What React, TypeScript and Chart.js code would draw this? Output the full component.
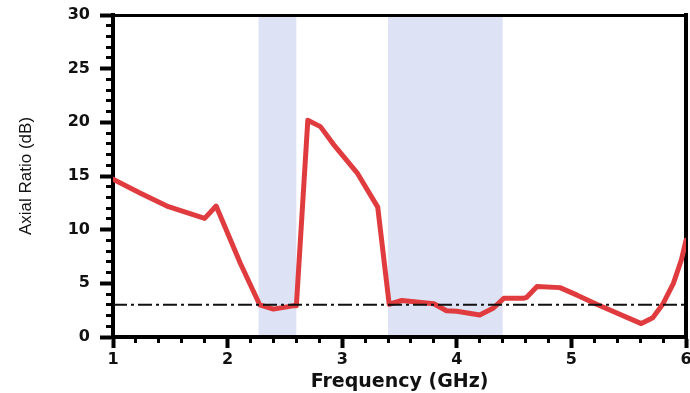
import React, { useEffect, useRef } from "react";
import { Chart, registerables } from "chart.js";

Chart.register(...registerables);

// Axial ratio curve (frequency in GHz, AR in dB)
const frequencies = [
  1.0, 1.24, 1.47, 1.8, 1.9, 2.11, 2.28, 2.4, 2.57, 2.6, 2.7, 2.81, 2.92, 3.13,
  3.31, 3.41, 3.52, 3.8, 3.91, 4.0, 4.2, 4.32, 4.41, 4.58, 4.61, 4.7, 4.9, 5.05,
  5.22, 5.61, 5.71, 5.8, 5.89, 5.96, 6.0,
];
const axialRatio = [
  14.7, 13.4, 12.2, 11.05, 12.2, 6.9, 3.0, 2.6, 2.9, 2.9, 20.2, 19.6, 18.0, 15.3,
  12.1, 3.05, 3.4, 3.1, 2.45, 2.4, 2.05, 2.7, 3.6, 3.6, 3.7, 4.7, 4.6, 3.9,
  3.05, 1.25, 1.8, 3.1, 5.0, 7.2, 9.0,
];

// 3 dB reference level
const thresholdDb = 3;

// Highlighted frequency bands (GHz)
const bandStarts = [2.27, 3.4];
const bandEnds = [2.6, 4.4];

const xRange = [1, 6];
const yRange = [0, 30];

const bandPlugin = {
  id: "bands",
  beforeDraw(chart: any) {
    const { ctx, chartArea, scales } = chart;
    const xs = scales.x;
    ctx.save();
    ctx.fillStyle = "#dde3f4";
    bandStarts.forEach((s, i) => {
      const x1 = xs.getPixelForValue(s);
      const x2 = xs.getPixelForValue(bandEnds[i]);
      ctx.fillRect(x1, chartArea.top, x2 - x1, chartArea.bottom - chartArea.top);
    });
    ctx.restore();
  },
};

const tickFont = { family: "'DejaVu Sans', sans-serif", size: 16, weight: "bold" as const };

export default function App() {
  const canvasRef = useRef<HTMLCanvasElement | null>(null);

  useEffect(() => {
    if (!canvasRef.current) return;
    const chart = new Chart(canvasRef.current, {
      type: "line",
      data: {
        datasets: [
          {
            data: [
              { x: xRange[0], y: thresholdDb },
              { x: xRange[1], y: thresholdDb },
            ],
            borderColor: "#111",
            borderWidth: 2,
            borderDash: [14, 4, 3, 4],
            pointRadius: 0,
            order: 0,
          },
          {
            data: frequencies.map((f, i) => ({ x: f, y: axialRatio[i] })),
            borderColor: "#e03c3f",
            borderWidth: 5,
            borderJoinStyle: "round",
            borderCapStyle: "round",
            pointRadius: 0,
            tension: 0,
            order: 1,
          },
        ],
      },
      options: {
        responsive: false,
        animation: false,
        layout: { padding: { top: 15, right: 4, left: 0, bottom: 0 } },
        plugins: { legend: { display: false }, tooltip: { enabled: false } },
        scales: {
          x: {
            type: "linear",
            position: "bottom",
            weight: 1,
            min: xRange[0],
            max: xRange[1],
            ticks: { stepSize: 1, color: "#111", font: tickFont, padding: 2, maxRotation: 0 },
            grid: { drawOnChartArea: false, tickLength: 11, tickWidth: 4, tickColor: "#000" },
            border: { display: true, color: "#000", width: 4 },
            title: {
              display: true,
              text: "Frequency (GHz)",
              color: "#111",
              font: { family: "'DejaVu Sans', sans-serif", size: 19, weight: "bold" },
              padding: { top: 0, bottom: 0 },
            },
            afterFit(scale: any) {
              scale.height = 56;
              scale.paddingLeft = 0;
              scale.paddingRight = 0;
            },
          },
          xMinor: {
            type: "linear",
            position: "bottom",
            weight: 0,
            min: xRange[0],
            max: xRange[1],
            ticks: { stepSize: 0.2, display: false },
            grid: { drawOnChartArea: false, tickLength: 6, tickWidth: 3, tickColor: "#000" },
            border: { display: false },
            afterFit(scale: any) {
              scale.height = 0;
              scale.paddingLeft = 0;
              scale.paddingRight = 0;
            },
          },
          xTop: {
            type: "linear",
            position: "top",
            min: xRange[0],
            max: xRange[1],
            ticks: { display: false },
            grid: { drawOnChartArea: false, drawTicks: false },
            border: { display: true, color: "#000", width: 3 },
            afterFit(scale: any) {
              scale.height = 0;
              scale.paddingLeft = 0;
              scale.paddingRight = 0;
            },
          },
          y: {
            type: "linear",
            position: "left",
            weight: 1,
            min: yRange[0],
            max: yRange[1],
            ticks: { stepSize: 5, color: "#111", font: tickFont, padding: 10 },
            grid: { drawOnChartArea: false, tickLength: 13, tickWidth: 4, tickColor: "#000" },
            border: { display: true, color: "#000", width: 4 },
            title: {
              display: true,
              text: "Axial Ratio (dB)",
              color: "#111",
              font: { family: "'Liberation Sans', Arial, sans-serif", size: 17 },
              padding: { top: 16, bottom: 0 },
            },
            afterFit(scale: any) {
              scale.width = 113;
              scale.paddingTop = 0;
              scale.paddingBottom = 0;
            },
          },
          yMinor: {
            type: "linear",
            position: "left",
            weight: 0,
            min: yRange[0],
            max: yRange[1],
            ticks: { stepSize: 1, display: false },
            grid: { drawOnChartArea: false, tickLength: 7, tickWidth: 3, tickColor: "#000" },
            border: { display: false },
            afterFit(scale: any) {
              scale.width = 0;
              scale.paddingTop = 0;
              scale.paddingBottom = 0;
            },
          },
          yRight: {
            type: "linear",
            position: "right",
            min: yRange[0],
            max: yRange[1],
            ticks: { display: false },
            grid: { drawOnChartArea: false, drawTicks: false },
            border: { display: true, color: "#000", width: 4 },
            afterFit(scale: any) {
              scale.width = 0;
              scale.paddingTop = 0;
              scale.paddingBottom = 0;
            },
          },
        },
      },
      plugins: [bandPlugin],
    });
    return () => chart.destroy();
  }, []);

  return (
    <div style={{ position: "fixed", left: 0, top: 0, width: 690, height: 393, background: "#fff" }}>
      <canvas ref={canvasRef} width={690} height={393} />
    </div>
  );
}
